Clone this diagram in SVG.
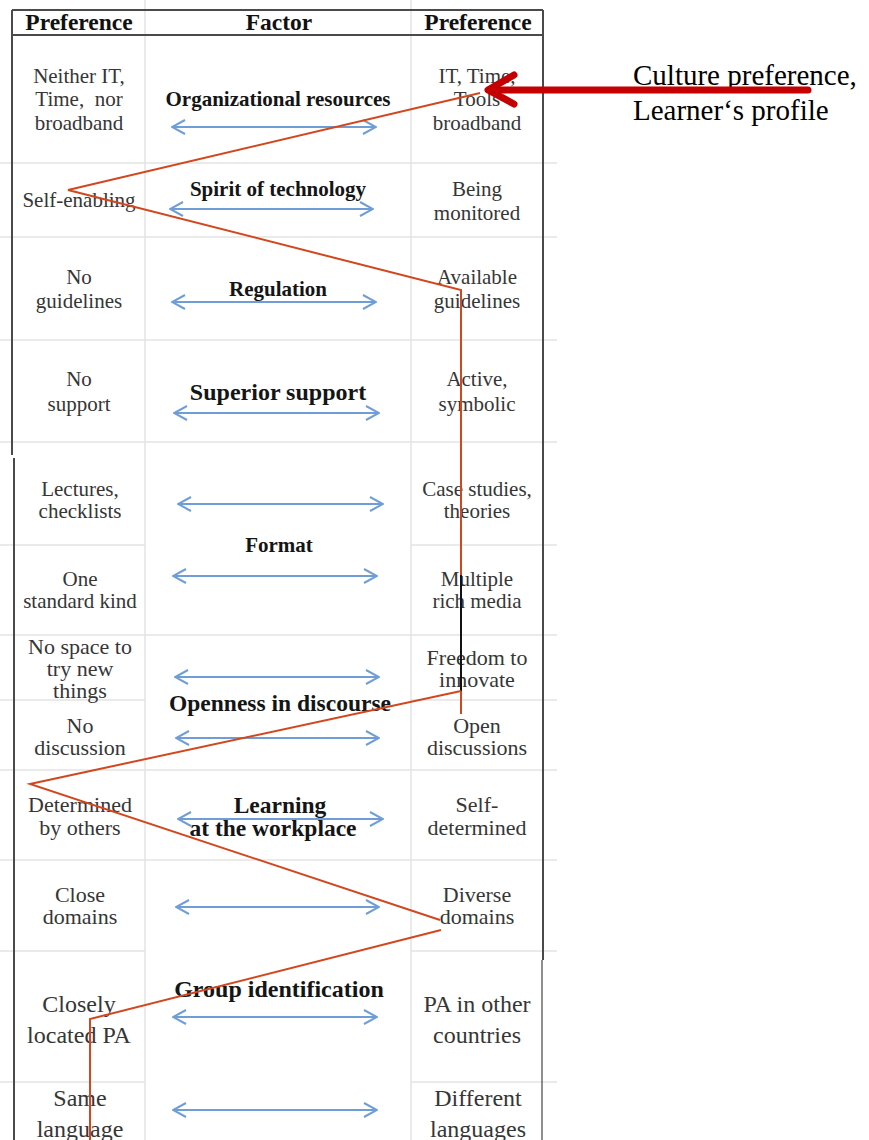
<svg xmlns="http://www.w3.org/2000/svg" width="869" height="1140" viewBox="0 0 869 1140">
<style>
.grid{stroke:#e4e4e4;stroke-width:1.5;fill:none}
.bord{stroke:#4a4a4a;stroke-width:2;fill:none}
.t{font-family:"Liberation Serif","Times New Roman",serif;text-anchor:middle;fill:#363636}
.s21{font-size:21px}
.s23{font-size:22px}
.s24{font-size:24px}
.f{font-family:"Liberation Serif","Times New Roman",serif;text-anchor:middle;font-weight:bold;fill:#151515}
.h{font-family:"Liberation Serif","Times New Roman",serif;text-anchor:middle;font-weight:bold;font-size:23.5px;fill:#111}
.dbl{stroke:#6f9ed6;stroke-width:2;fill:none;marker-start:url(#chev);marker-end:url(#chev)}
.path{stroke:#d2471d;stroke-width:2;fill:none}
.note{font-family:"Liberation Serif","Times New Roman",serif;font-size:29px;fill:#000}
</style>
<defs>
<marker id="chev" viewBox="0 0 15 16" refX="14" refY="8" markerWidth="15" markerHeight="16" markerUnits="userSpaceOnUse" orient="auto-start-reverse">
<path d="M1,1 L14,8 L1,15" fill="none" stroke="#6f9ed6" stroke-width="2"/>
</marker>
</defs>
<rect width="869" height="1140" fill="#fff"/>

<g id="grid">
<path class="grid" d="M145,0 V1140 M411,0 V1140"/>
<path class="grid" d="M0,163 H557 M0,237 H557 M0,340 H557 M0,442 H557 M0,635 H557 M0,770 H557 M0,860 H557"/>
<path class="grid" d="M0,545 H145 M411,545 H557 M0,700 H145 M411,700 H557 M0,951 H145 M411,951 H557 M0,1082 H145 M411,1082 H557"/>
</g>

<g id="border">
<path class="bord" d="M12,10 H543 M12,35 H543 M12,10 V455 M14,458 V1140 M543,10 V960"/>
<path d="M542,960 V1140" stroke="#6a6a6a" stroke-width="1.5"/>
</g>

<g id="header">
<text class="h" x="79" y="30">Preference</text>
<text class="h" x="279" y="30">Factor</text>
<text class="h" x="478" y="30">Preference</text>
</g>

<g id="row-organizational-resources">
<text class="t s21" x="79" y="83">Neither IT,</text>
<text class="t s21" x="79" y="106" xml:space="preserve">Time,  nor</text>
<text class="t s21" x="79" y="130">broadband</text>
<text class="f" style="font-size:21px" x="278" y="106">Organizational resources</text>
<line class="dbl" x1="172" y1="127" x2="376" y2="127"/>
<text class="t s21" x="477" y="83">IT, Time,</text>
<text class="t s21" x="477" y="106">Tools</text>
<text class="t s21" x="477" y="130">broadband</text>
</g>

<g id="row-spirit-of-technology">
<text class="t s21" x="79" y="207">Self-enabling</text>
<text class="f" style="font-size:21px" x="278" y="196">Spirit of technology</text>
<line class="dbl" x1="170" y1="209" x2="373" y2="209"/>
<text class="t s21" x="477" y="196">Being</text>
<text class="t s21" x="477" y="220">monitored</text>
</g>

<g id="row-regulation">
<text class="t s21" x="79" y="284">No</text>
<text class="t s21" x="79" y="308">guidelines</text>
<text class="f" style="font-size:21px" x="278" y="296">Regulation</text>
<line class="dbl" x1="172" y1="302" x2="376" y2="302"/>
<text class="t s21" x="477" y="284">Available</text>
<text class="t s21" x="477" y="308">guidelines</text>
</g>

<g id="row-superior-support">
<text class="t s21" x="79" y="386">No</text>
<text class="t s21" x="79" y="411">support</text>
<text class="f" style="font-size:24px" x="278" y="400">Superior support</text>
<line class="dbl" x1="174" y1="413" x2="379" y2="413"/>
<text class="t s21" x="477" y="386">Active,</text>
<text class="t s21" x="477" y="411">symbolic</text>
</g>

<g id="row-format">
<text class="t s21" x="80" y="496">Lectures,</text>
<text class="t s21" x="80" y="518">checklists</text>
<line class="dbl" x1="178" y1="504" x2="383" y2="504"/>
<text class="t s21" x="477" y="496">Case studies,</text>
<text class="t s21" x="477" y="518">theories</text>
<text class="f" style="font-size:21px" x="279" y="552">Format</text>
<text class="t s21" x="80" y="586">One</text>
<text class="t s21" x="80" y="608">standard kind</text>
<line class="dbl" x1="173" y1="576" x2="377" y2="576"/>
<text class="t s21" x="477" y="586">Multiple</text>
<text class="t s21" x="477" y="608">rich media</text>
</g>

<g id="row-openness-in-discourse">
<text class="t s23" x="80" y="654">No space to</text>
<text class="t s23" x="80" y="676">try new</text>
<text class="t s23" x="80" y="698">things</text>
<line class="dbl" x1="175" y1="677" x2="379" y2="677"/>
<text class="t s23" x="477" y="665">Freedom to</text>
<text class="t s23" x="477" y="687">innovate</text>
<text class="f" style="font-size:23.5px" x="280" y="711">Openness in discourse</text>
<text class="t s23" x="80" y="733">No</text>
<text class="t s23" x="80" y="755">discussion</text>
<line class="dbl" x1="176" y1="738" x2="379" y2="738"/>
<text class="t s23" x="477" y="733">Open</text>
<text class="t s23" x="477" y="755">discussions</text>
</g>

<g id="row-learning-at-the-workplace">
<text class="t s23" x="80" y="812">Determined</text>
<text class="t s23" x="80" y="835">by others</text>
<line class="dbl" x1="178" y1="819" x2="383" y2="819"/>
<text class="f" style="font-size:23.5px" x="280" y="813">Learning</text>
<text class="f" style="font-size:23.5px" x="273" y="836">at the workplace</text>
<text class="t s23" x="477" y="812">Self-</text>
<text class="t s23" x="477" y="835">determined</text>
</g>

<g id="row-group-identification">
<text class="t s23" x="80" y="902">Close</text>
<text class="t s23" x="80" y="924">domains</text>
<line class="dbl" x1="176" y1="907" x2="379" y2="907"/>
<text class="t s23" x="477" y="902">Diverse</text>
<text class="t s23" x="477" y="924">domains</text>
<text class="f" style="font-size:24px" x="279" y="997">Group identification</text>
<text class="t s24" x="79" y="1012">Closely</text>
<text class="t s24" x="79" y="1043">located PA</text>
<line class="dbl" x1="173" y1="1017" x2="377" y2="1017"/>
<text class="t s24" x="477" y="1012">PA in other</text>
<text class="t s24" x="477" y="1043">countries</text>
<text class="t s24" x="80" y="1106">Same</text>
<text class="t s24" x="80" y="1137">language</text>
<line class="dbl" x1="173" y1="1110" x2="377" y2="1110"/>
<text class="t s24" x="478" y="1106">Different</text>
<text class="t s24" x="478" y="1137">languages</text>
</g>

<g id="note">
<text class="note" x="633" y="85">Culture preference,</text>
<text class="note" x="633" y="120">Learner‘s profile</text>
</g>

<g id="connectors">
<polyline class="path" points="480,93 68,190 461,290 461,577"/>
<line x1="461" y1="575" x2="461" y2="691" stroke="#111" stroke-width="2"/>
<polyline class="path" points="461,691 461,714"/>
<polyline class="path" points="461,691 30,784 440,920"/>
<polyline class="path" points="441,930 90,1019 90,1140"/>
<g id="culture-arrow" stroke="#c40000" stroke-width="7" stroke-linecap="round" stroke-linejoin="round" fill="none">
<line x1="808" y1="90" x2="490" y2="90"/>
<polyline points="514,75 488,90 514,104"/>
</g>
</g>
</svg>
